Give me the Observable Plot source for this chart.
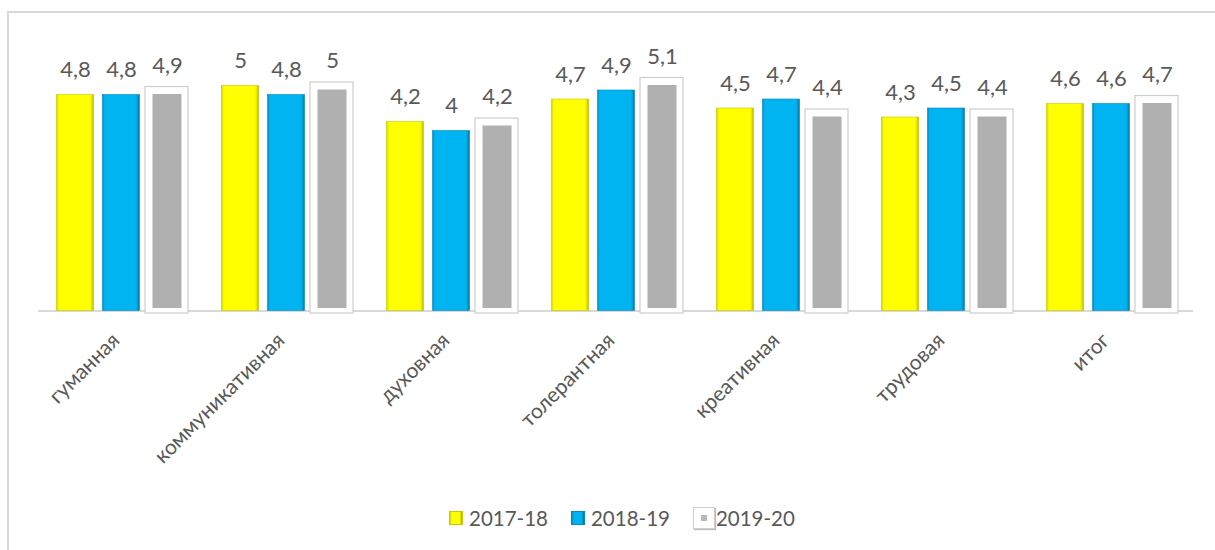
<!DOCTYPE html>
<html>
<head>
<meta charset="utf-8">
<script src="https://cdn.jsdelivr.net/npm/d3@7"></script>
<script src="https://cdn.jsdelivr.net/npm/@observablehq/plot@0.6"></script>
<style>
  body { margin: 0; background: #fff; }
  #wrap { position: relative; width: 1215px; height: 550px; overflow: hidden; background: #fff; font-family: Lato, "Liberation Sans", sans-serif; }
  #frame { position: absolute; left: 7px; top: 11px; width: 1400px; height: 800px; border-left: 2px solid #d9d9d9; border-top: 2px solid #d9d9d9; }
  #chart { position: absolute; left: 0; top: 0; }
  #legend { position: absolute; left: 449px; top: 506px; display: flex; align-items: center; font-size: 20.5px; color: #595959; height: 24px; }
  .item { display: flex; align-items: center; margin-right: 23px; }
  .sw { width: 14px; height: 14px; margin-right: 6px; box-sizing: border-box; }
  .sw.gray { width: 22px; height: 22px; background: #fff; border: 1px solid #cfcfcf; box-shadow: 1px 1px 1px #bbb; display: flex; align-items: center; justify-content: center; margin-right: 1px; }
  .sw.gray span { width: 6px; height: 6px; background: #b8b8b8; }
</style>
</head>
<body>
<div id="wrap">
  <div id="frame"></div>
  <svg width="0" height="0" style="position:absolute">
    <defs>
      <linearGradient id="gy" x1="0" x2="1" y1="0" y2="0">
        <stop offset="0%" stop-color="#d0d000"/>
        <stop offset="5%" stop-color="#f6f600"/>
        <stop offset="9%" stop-color="#ffff00"/>
        <stop offset="90%" stop-color="#ffff00"/>
        <stop offset="96%" stop-color="#e2e200"/>
        <stop offset="100%" stop-color="#a6a600"/>
      </linearGradient>
      <linearGradient id="gb" x1="0" x2="1" y1="0" y2="0">
        <stop offset="0%" stop-color="#0088bd"/>
        <stop offset="5%" stop-color="#00aeec"/>
        <stop offset="9%" stop-color="#00b4f2"/>
        <stop offset="90%" stop-color="#00b4f2"/>
        <stop offset="96%" stop-color="#0096cc"/>
        <stop offset="100%" stop-color="#006a94"/>
      </linearGradient>
      <filter id="sh" x="-20%" y="-20%" width="140%" height="140%">
        <feDropShadow dx="1" dy="0" stdDeviation="0.8" flood-color="#999" flood-opacity="0.6"/>
      </filter>
    </defs>
  </svg>
  <div id="chart"></div>
  <div id="legend"></div>
</div>
<script>
const categories = ["гуманная", "коммуникативная", "духовная", "толерантная", "креативная", "трудовая", "итог"];
const seasons = ["2017-18", "2018-19", "2019-20"];
const values2017 = [4.8, 5.0, 4.2, 4.7, 4.5, 4.3, 4.6];
const values2018 = [4.8, 4.8, 4.0, 4.9, 4.7, 4.5, 4.6];
const values2019 = [4.9, 5.0, 4.2, 5.1, 4.4, 4.4, 4.7];

const seriesValues = [values2017, values2018, values2019];
const rows = [];
categories.forEach((c, i) => {
  seasons.forEach((s, j) => rows.push({cat: c, season: s, value: seriesValues[j][i]}));
});
const bySeason = s => rows.filter(d => d.season === s);
const fmt = v => String(v).replace(".", ",");

const txt = "#595959";
const common = {fx: "cat", x: "season", y: "value"};

const chart = Plot.plot({
  width: 1215,
  height: 470,
  marginTop: 40.5,
  marginBottom: 159.5,
  marginLeft: 37.5,
  marginRight: 22.5,
  style: {fontFamily: "Lato, 'Liberation Sans', sans-serif", background: "transparent"},
  fx: {domain: categories, padding: 0, label: null},
  x: {domain: seasons, axis: null, paddingInner: 0.2, paddingOuter: 0.374},
  y: {domain: [0, 6], axis: null},
  marks: [
    Plot.ruleY([0], {stroke: "#d9d9d9", strokeWidth: 2}),
    Plot.barY(bySeason(seasons[0]), {...common, fill: "url(#gy)", stroke: "#c9c900", strokeWidth: 0.6}),
    Plot.barY(bySeason(seasons[1]), {...common, fill: "url(#gb)", stroke: "#0089bb", strokeWidth: 0.6}),
    Plot.barY(bySeason(seasons[2]), {...common, fill: "#ffffff", stroke: "#cdcdcd", strokeWidth: 1.2,
      insetLeft: -3.5, insetRight: -2.5, insetTop: -3.5, insetBottom: -2.5, filter: null}),
    Plot.barY(bySeason(seasons[2]), {...common, fill: "#b0b0b0", inset: 4, insetBottom: 2.5}),
    Plot.text(rows, {...common, text: d => fmt(d.value), lineAnchor: "bottom", dy: -18,
      fill: txt, fontSize: 22}),
    Plot.axisFx({anchor: "bottom", label: null, tickSize: 0, tickPadding: 26, tickRotate: -45,
      fontSize: 21, fill: txt, dx: -5})
  ]
});
document.getElementById("chart").appendChild(chart);

const legend = document.getElementById("legend");
const swStyles = [
  "background: linear-gradient(90deg,#d0d000,#ffff00 15%,#ffff00 80%,#a6a600); border:1px solid #c9c900;",
  "background: linear-gradient(90deg,#0088bd,#00b4f2 15%,#00b4f2 80%,#006a94); border:1px solid #0089bb;",
  null
];
seasons.forEach((s, j) => {
  const item = document.createElement("div");
  item.className = "item";
  const sw = document.createElement("div");
  if (swStyles[j]) { sw.className = "sw"; sw.style.cssText = swStyles[j]; }
  else { sw.className = "sw gray"; sw.appendChild(document.createElement("span")); }
  const t = document.createElement("span");
  t.textContent = s;
  item.appendChild(sw);
  item.appendChild(t);
  legend.appendChild(item);
});
</script>
</body>
</html>
